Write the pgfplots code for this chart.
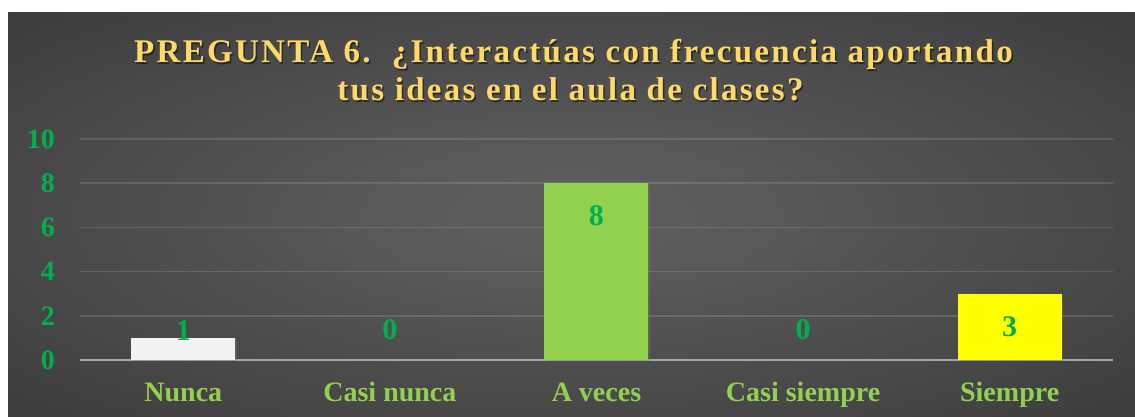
\documentclass[border=0pt]{standalone}
\usepackage{fontspec}
\setmainfont{Liberation Serif}
\newfontfamily\titlefont[LetterSpace=7]{Liberation Serif}
\usepackage{pgfplots}
\pgfplotsset{compat=1.18}
\usepackage{pgfplotstable}
\usetikzlibrary{shadows}
\definecolor{titlec}{HTML}{FFD966}
\definecolor{tickc}{HTML}{00B050}
\definecolor{catc}{HTML}{92D050}
\definecolor{nuncac}{HTML}{F2F2F2}
\definecolor{avecesc}{HTML}{92D050}
\definecolor{siemprec}{HTML}{FFFF00}
\definecolor{axc}{HTML}{A6A6A6}
\definecolor{bgc}{HTML}{5C5C5C}
\definecolor{bge}{HTML}{2E2E2E}
\definecolor{bgk}{HTML}{242424}
\pgfdeclareradialshading{bgshade}{\pgfpoint{0bp}{0bp}}{color(0bp)=(bgc); color(5bp)=(bgc); color(50bp)=(bge); color(72bp)=(bgk)}

\pgfplotstableread{
x y ly
0 1 1.31
1 0 1.36
2 8 6.52
3 0 1.36
4 3 1.49
}\labeltable

\begin{document}
\begin{tikzpicture}
\useasboundingbox (0,0) rectangle (1135pt,417pt);
\shade[shading=bgshade] (8pt,0pt) rectangle (1135pt,404pt);
\begin{axis}[
  at={(80pt,57pt)}, anchor=south west,
  scale only axis, width=1033pt, height=221pt,
  xmin=-0.5, xmax=4.5, ymin=0, ymax=10,
  ytick={0,2,...,10}, xtick={0,1,2,3,4},
  xticklabels={Nunca, Casi nunca, A veces, Casi siempre, Siempre},
  axis x line*=bottom, axis y line*=left,
  ymajorgrids,
  major grid style={draw=white, opacity=0.13, line width=1.5pt},
  tick style={draw=none}, major tick length=0pt,
  x axis line style={draw=axc, line width=2.5pt, -},
  y axis line style={draw=none},
  /pgf/number format/assume math mode=true,
  yticklabel style={font=\bfseries\fontsize{28}{28}\selectfont, text=tickc, anchor=east, inner sep=0pt, xshift=-25pt},
  xticklabel style={font=\bfseries\fontsize{28}{28}\selectfont, text=catc, anchor=base, inner sep=0pt, yshift=-42pt},
  clip=false,
]
\addplot[ybar, bar width=104pt, fill=nuncac, draw=none, drop shadow={shadow xshift=1.5pt, shadow yshift=-1.5pt, opacity=0.35}] coordinates {(0,1)};
\addplot[ybar, bar width=104pt, fill=none, draw=none] coordinates {(1,0)};
\addplot[ybar, bar width=104pt, fill=avecesc, draw=none, drop shadow={shadow xshift=1.5pt, shadow yshift=-1.5pt, opacity=0.35}] coordinates {(2,8)};
\addplot[ybar, bar width=104pt, fill=none, draw=none] coordinates {(3,0)};
\addplot[ybar, bar width=104pt, fill=siemprec, draw=none, drop shadow={shadow xshift=1.5pt, shadow yshift=-1.5pt, opacity=0.35}] coordinates {(4,3)};
\addplot[draw=none, mark=none, nodes near coords, point meta=explicit symbolic,
  every node near coord/.style={anchor=center, inner sep=0pt, text=tickc, font=\bfseries\fontsize{30}{30}\selectfont}]
  table[x=x, y=ly, meta=y] {\labeltable};
\end{axis}
\node[anchor=base, text=black, opacity=0.45] at (575pt,352pt) {\titlefont\bfseries\fontsize{33}{33}\selectfont PREGUNTA 6.\ \ ¿Interactúas con frecuencia aportando};
\node[anchor=base, text=titlec] at (573.5pt,354pt) {\titlefont\bfseries\fontsize{33}{33}\selectfont PREGUNTA 6.\ \ ¿Interactúas con frecuencia aportando};
\node[anchor=base, text=black, opacity=0.45] at (572pt,314pt) {\titlefont\bfseries\fontsize{33}{33}\selectfont tus ideas en el aula de clases?};
\node[anchor=base, text=titlec] at (570.5pt,316pt) {\titlefont\bfseries\fontsize{33}{33}\selectfont tus ideas en el aula de clases?};
\end{tikzpicture}
\end{document}
